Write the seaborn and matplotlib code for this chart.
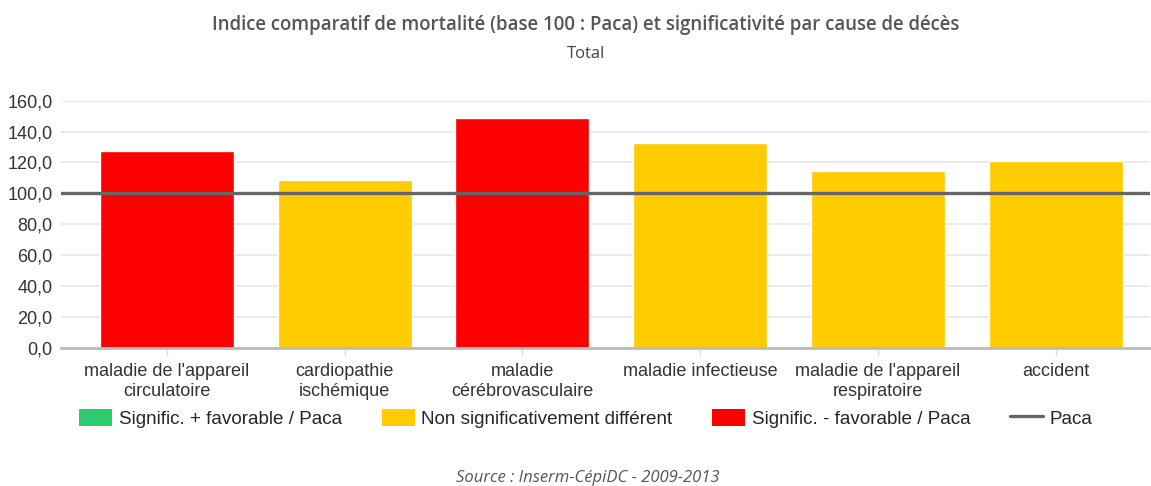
import pandas as pd
import matplotlib.pyplot as plt
import seaborn as sns
from matplotlib.patches import Patch
from matplotlib.lines import Line2D

# Data
causes = ["maladie de l'appareil\ncirculatoire", "cardiopathie\nischémique",
          "maladie\ncérébrovasculaire", "maladie infectieuse",
          "maladie de l'appareil\nrespiratoire", "accident"]
values = [127.4, 108.4, 148.8, 132.8, 114.6, 120.9]
status = ["Signific. - favorable / Paca", "Non significativement différent",
          "Signific. - favorable / Paca", "Non significativement différent",
          "Non significativement différent", "Non significativement différent"]
reference = 100

colors = {"Signific. + favorable / Paca": "#2ecc71",
          "Non significativement différent": "#ffcc00",
          "Signific. - favorable / Paca": "#ff0000"}

df = pd.DataFrame({"cause": causes, "value": values, "status": status})

sns.set_theme(style="white")
plt.rcParams['font.family'] = ['Liberation Sans', 'DejaVu Sans']

fig = plt.figure(figsize=(11.51, 4.86), dpi=100)
ax = fig.add_axes([0.053, 0.2846, 0.9461, 0.5082])

sns.barplot(data=df, x="cause", y="value", hue="status", palette=colors,
            dodge=False, width=0.754, ax=ax, legend=False, saturation=1)

ax.axhline(reference, color="#666666", lw=2.4, zorder=5)
ax.set_ylim(0, 160)
ax.set_xlim(-0.596, 5.53)
ax.set_yticks(range(0, 161, 20))
ax.set_yticklabels([f"{v},0" for v in range(0, 161, 20)], fontsize=13, color="#333333")
ax.yaxis.grid(True, color="#e6e6e6", lw=1.2)
ax.set_axisbelow(True)
ax.set_xlabel("")
ax.set_ylabel("")
ax.tick_params(axis="x", labelsize=13, labelcolor="#333333", length=6, width=1,
               color="#dddddd", direction="out", pad=5, bottom=True)
ax.tick_params(axis="y", length=0, pad=6)
for s in ["top", "right", "left"]:
    ax.spines[s].set_visible(False)
ax.spines["bottom"].set_color("#bbbbbb")
ax.spines["bottom"].set_linewidth(2)

fig.text(0.509, 0.949, "Indice comparatif de mortalité (base 100 : Paca) et significativité par cause de décès",
         ha="center", va="center", fontsize=13.4, color="#555555", weight="semibold",
         family=["Open Sans", "DejaVu Sans"])
fig.text(0.509, 0.889, "Total", ha="center", va="center", fontsize=12, color="#444444",
         family=["Open Sans", "DejaVu Sans"])

handles = [Patch(facecolor=c, edgecolor="none", label=k) for k, c in colors.items()]
handles.append(Line2D([0], [0], color="#666666", lw=2.4, label="Paca"))
fig.legend(handles=handles, loc="center", bbox_to_anchor=(0.509, 0.139), ncol=4,
           frameon=False, fontsize=13.6, handlelength=1.75, handleheight=1.05,
           columnspacing=2.1, handletextpad=0.35)

fig.text(0.511, 0.016, "Source : Inserm-CépiDC - 2009-2013", ha="center", va="center",
         fontsize=12, style="italic", color="#555555", family=["Open Sans", "DejaVu Sans"])

fig.savefig("out.png", dpi=100)
